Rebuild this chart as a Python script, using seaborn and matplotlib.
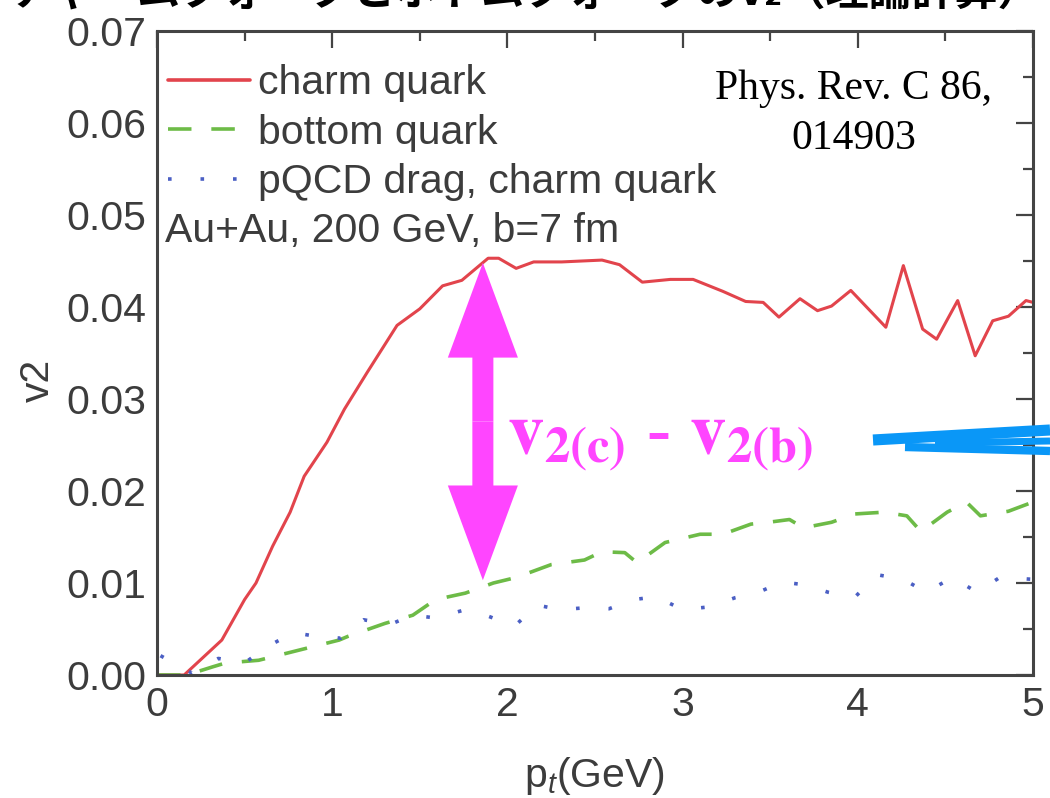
import numpy as np
import pandas as pd
import matplotlib
matplotlib.use("Agg")
import matplotlib.pyplot as plt
from matplotlib.patches import FancyArrow
from matplotlib.lines import Line2D
from matplotlib.ticker import MultipleLocator, FormatStrFormatter
import seaborn as sns

# ---------------- data ----------------
charm_pt = [0.0, 0.155, 0.37, 0.50, 0.565, 0.66, 0.76, 0.84, 0.97, 1.07, 1.20, 1.37, 1.50,
            1.63, 1.74, 1.89, 1.95, 2.05, 2.15, 2.31, 2.54, 2.64, 2.77, 2.93, 3.06, 3.23,
            3.36, 3.46, 3.55, 3.67, 3.77, 3.85, 3.96, 4.16, 4.26, 4.37, 4.45, 4.57, 4.67,
            4.77, 4.86, 4.96, 5.0]
charm_v2 = [0.0, 0.0, 0.0038, 0.0082, 0.0100, 0.0140, 0.0177, 0.0216, 0.0253, 0.0289, 0.0329,
            0.0380, 0.0398, 0.0423, 0.0429, 0.0453, 0.0453, 0.0442, 0.0449, 0.0449, 0.0451,
            0.0446, 0.0427, 0.0430, 0.0430, 0.0417, 0.0406, 0.0405, 0.0389, 0.0409, 0.0396,
            0.0401, 0.0418, 0.0378, 0.0445, 0.0376, 0.0365, 0.0407, 0.0347, 0.0385, 0.0390,
            0.0407, 0.0405]

bottom_pt = [0.0, 0.17, 0.32, 0.39, 0.58, 0.81, 1.04, 1.09, 1.30, 1.46, 1.59, 1.76, 1.92,
             2.05, 2.25, 2.44, 2.54, 2.67, 2.74, 2.90, 3.10, 3.23, 3.39, 3.49, 3.61, 3.69,
             3.85, 3.98, 4.15, 4.28, 4.36, 4.51, 4.62, 4.70, 4.86, 5.0]
bottom_v2 = [0.0, 0.0, 0.0009, 0.0013, 0.0016, 0.0027, 0.0038, 0.0042, 0.0056, 0.0065, 0.0082,
             0.0089, 0.0100, 0.0106, 0.0120, 0.0125, 0.0134, 0.0133, 0.0122, 0.0144, 0.0153,
             0.0153, 0.0164, 0.0166, 0.0169, 0.0160, 0.0166, 0.0175, 0.0177, 0.0173, 0.0156,
             0.0177, 0.0188, 0.0173, 0.0178, 0.0188]

pqcd_pt = [0.02, 0.2, 0.35, 0.50, 0.63, 0.78, 0.91, 1.05, 1.18, 1.33, 1.46, 1.59, 1.76, 1.89,
           2.04, 2.17, 2.30, 2.44, 2.58, 2.72, 2.85, 3.00, 3.15, 3.30, 3.42, 3.57, 3.70, 3.83,
           3.98, 4.11, 4.26, 4.39, 4.54, 4.68, 4.81, 5.0]
pqcd_v2 = [0.0021, 0.0002, 0.0018, 0.0013, 0.0031, 0.0046, 0.0042, 0.0040, 0.0060, 0.0055,
           0.0065, 0.0062, 0.0071, 0.0064, 0.0053, 0.0076, 0.0071, 0.0073, 0.0072, 0.0082,
           0.0085, 0.0071, 0.0074, 0.0084, 0.0089, 0.0101, 0.0098, 0.0090, 0.0084, 0.0109,
           0.0104, 0.0090, 0.0106, 0.0090, 0.0106, 0.0104]

series_labels = ["charm quark", "bottom quark", "pQCD drag, charm quark"]
x_ticks = [0, 1, 2, 3, 4, 5]
y_ticks = [0.00, 0.01, 0.02, 0.03, 0.04, 0.05, 0.06, 0.07]

# ---------------- style ----------------
sns.set_theme(style="white")
plt.rcParams['font.family'] = ['Liberation Sans', 'DejaVu Sans']
plt.rcParams['mathtext.fontset'] = 'custom'
plt.rcParams['mathtext.rm'] = 'Liberation Sans'
plt.rcParams['mathtext.it'] = 'Liberation Sans:italic'

TXT = "#3c3c3c"
RED = "#e2444c"
GREEN = "#6dbb47"
BLUE = "#4b5fc4"
MAG = "#ff45ff"
FS = 29.5

fig = plt.figure(figsize=(10.5, 7.98), dpi=100)
ax = fig.add_axes([157/1050, 1 - 675/798, (1033-157)/1050, (675-31)/798])

df_c = pd.DataFrame({"pt": charm_pt, "v2": charm_v2})
df_b = pd.DataFrame({"pt": bottom_pt, "v2": bottom_v2})
df_p = pd.DataFrame({"pt": pqcd_pt, "v2": pqcd_v2})

sns.lineplot(data=df_c, x="pt", y="v2", ax=ax, color=RED, lw=2.2, label=series_labels[0],
             sort=False, estimator=None)
sns.lineplot(data=df_b, x="pt", y="v2", ax=ax, color=GREEN, lw=2.6, label=series_labels[1],
             sort=False, estimator=None)
sns.lineplot(data=df_p, x="pt", y="v2", ax=ax, color=BLUE, lw=2.6, label=series_labels[2],
             sort=False, estimator=None)
ax.lines[1].set_dashes((6.5, 5.5))
ax.lines[2].set_dashes((1, 8))

ax.set_xlim(0, 5)
ax.set_ylim(0, 0.07)
ax.set_xticks(x_ticks)
ax.set_yticks(y_ticks)
ax.yaxis.set_major_formatter(FormatStrFormatter('%.2f'))
ax.xaxis.set_minor_locator(MultipleLocator(0.5))
ax.yaxis.set_minor_locator(MultipleLocator(0.005))
ax.tick_params(which='both', direction='in', top=True, right=True, colors="#444444",
               labelcolor=TXT, labelsize=FS, width=1.6)
ax.tick_params(which='major', length=12, pad=8)
ax.tick_params(which='minor', length=7)
for s in ax.spines.values():
    s.set_color("#444444")
    s.set_linewidth(2.2)

ax.set_xlabel(r"p$_t$(GeV)", fontsize=FS, color=TXT, labelpad=22)
ax.set_ylabel("v2", fontsize=FS, color=TXT)
ax.yaxis.set_label_coords(-0.114, 0.458)

leg = ax.legend(loc='upper left', bbox_to_anchor=(0.008, 0.955), frameon=False,
                fontsize=FS, handlelength=2.0, handletextpad=0.2, labelspacing=0.28,
                borderpad=0.1, borderaxespad=0.0)
for t in leg.get_texts():
    t.set_color(TXT)
for h in leg.legend_handles:
    h.set_linewidth(2.6)
leg.legend_handles[1].set_dashes((6.5, 5.5))
leg.legend_handles[2].set_dashes((1, 8))

ax.text(0.009, 0.689, "Au+Au, 200 GeV, b=7 fm", transform=ax.transAxes, fontsize=FS,
        color=TXT, va='center', ha='left')

# reference text
ax.text(0.795, 0.871, "Phys. Rev. C 86,\n014903", transform=ax.transAxes,
        fontsize=30, family='Liberation Serif', color='black', ha='center', va='center',
        linespacing=1.38)

# magenta double arrow
xa = 1.86
ytop, ybot = 0.0448, 0.0103
ymid = (ytop + ybot) / 2
for y_end in (ytop, ybot):
    ax.add_patch(FancyArrow(xa, ymid, 0, y_end - ymid, width=0.12, head_width=0.40,
                            head_length=0.0103, length_includes_head=True,
                            color=MAG, lw=0, zorder=5))

ax.text(2.0, 0.0255, r"$\mathbf{v}_{\mathbf{2(c)}}$ - $\mathbf{v}_{\mathbf{2(b)}}$",
        fontsize=52, color=MAG, ha='left', va='center',
        math_fontfamily='stix', family='Liberation Serif', fontweight='bold')

# blue scribble
for (x0, y0, x1, y1, lw) in [(873, 440, 1050, 430, 8), (905, 447, 1050, 451, 6),
                              (935, 443, 1050, 441, 5)]:
    fig.add_artist(Line2D([x0/1050, x1/1050], [1 - y0/798, 1 - y1/798],
                          transform=fig.transFigure, color="#0a97f7", lw=lw,
                          solid_capstyle='butt'))

# cut-off Japanese slide title
fig.text(0.5, 1 - 5/798, "チャームクォークとボトムクォークのv₂（理論計算）",
         family=['Noto Sans CJK JP', 'DejaVu Sans'], fontweight='bold', fontsize=31,
         ha='center', va='baseline', color='black')

fig.savefig("out.png", dpi=100, facecolor='white')
